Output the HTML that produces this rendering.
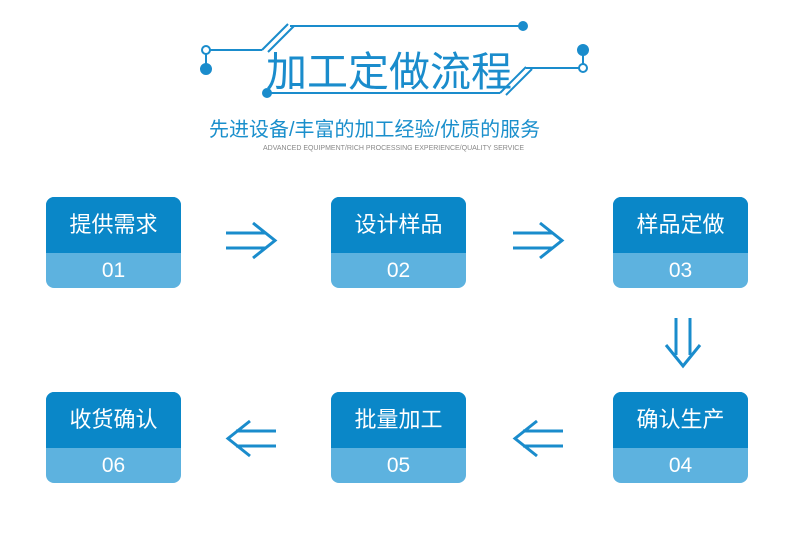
<!DOCTYPE html>
<html><head><meta charset="utf-8"><style>
body{margin:0;background:#fff;width:790px;height:544px;overflow:hidden;position:relative;font-family:"Liberation Sans","Noto Sans CJK SC",sans-serif}
.t{position:absolute;white-space:nowrap}
.box{position:absolute;width:135px;height:91px;border-radius:8px;overflow:hidden;background:#5db2df}
.box .a{height:56px;background:#0a87c8;color:#fff;font-size:22px;text-align:center;line-height:56px}
.box .b{height:35px;color:#fff;font-size:21px;text-align:center;line-height:35px}
</style></head><body>
<svg width="790" height="544" style="position:absolute;left:0;top:0" fill="none" stroke="#1a8ccc">
<g stroke-width="2">
<line x1="290" y1="26" x2="523" y2="26"/>
<circle cx="523" cy="26" r="4" fill="#1a8ccc"/>
<line x1="210" y1="50" x2="262" y2="50"/>
<line x1="262" y1="50" x2="288" y2="24"/>
<line x1="268" y1="52" x2="294" y2="26"/>
<circle cx="206" cy="50" r="4" fill="#fff"/>
<line x1="206" y1="54" x2="206" y2="64"/>
<circle cx="206" cy="69" r="5" fill="#1a8ccc"/>
<line x1="267" y1="93" x2="500" y2="93"/>
<circle cx="267" cy="93" r="4" fill="#1a8ccc"/>
<line x1="500" y1="93" x2="526" y2="67"/>
<line x1="506" y1="95" x2="532" y2="69"/>
<line x1="526" y1="68" x2="579" y2="68"/>
<circle cx="583" cy="68" r="4" fill="#fff"/>
<line x1="583" y1="55" x2="583" y2="64"/>
<circle cx="583" cy="50" r="5" fill="#1a8ccc"/>
</g>
<g stroke="#1a8ccc" stroke-width="3">
<line x1="226" y1="233" x2="266" y2="233"/><line x1="226" y1="248" x2="266" y2="248"/><polyline points="253,223 275,240.5 253,258"/>
<line x1="513" y1="233" x2="553" y2="233"/><line x1="513" y1="248" x2="553" y2="248"/><polyline points="540,223 562,240.5 540,258"/>
<line x1="236" y1="431" x2="276" y2="431"/><line x1="236" y1="446" x2="276" y2="446"/><polyline points="250,421 228,438.5 250,456"/>
<line x1="523" y1="431" x2="563" y2="431"/><line x1="523" y1="446" x2="563" y2="446"/><polyline points="537,421 515,438.5 537,456"/>
<line x1="676" y1="318" x2="676" y2="355"/><line x1="690" y1="318" x2="690" y2="355"/><polyline points="666,345 683,366 700,345"/>
</g>
</svg>
<div class="t" style="left:266px;top:38px;font-size:41px;color:#1a8ccc">加工定做流程</div>
<div class="t" style="left:209px;top:113px;font-size:20px;color:#1a8fcc">先进设备/丰富的加工经验/优质的服务</div>
<div class="t" style="left:263px;top:145px;font-size:7px;color:#888">ADVANCED EQUIPMENT/RICH PROCESSING EXPERIENCE/QUALITY SERVICE</div>
<div class="box" style="left:46px;top:197px"><div class="a">提供需求</div><div class="b">01</div></div>
<div class="box" style="left:331px;top:197px"><div class="a">设计样品</div><div class="b">02</div></div>
<div class="box" style="left:613px;top:197px"><div class="a">样品定做</div><div class="b">03</div></div>
<div class="box" style="left:46px;top:392px"><div class="a">收货确认</div><div class="b">06</div></div>
<div class="box" style="left:331px;top:392px"><div class="a">批量加工</div><div class="b">05</div></div>
<div class="box" style="left:613px;top:392px"><div class="a">确认生产</div><div class="b">04</div></div>
</body></html>
